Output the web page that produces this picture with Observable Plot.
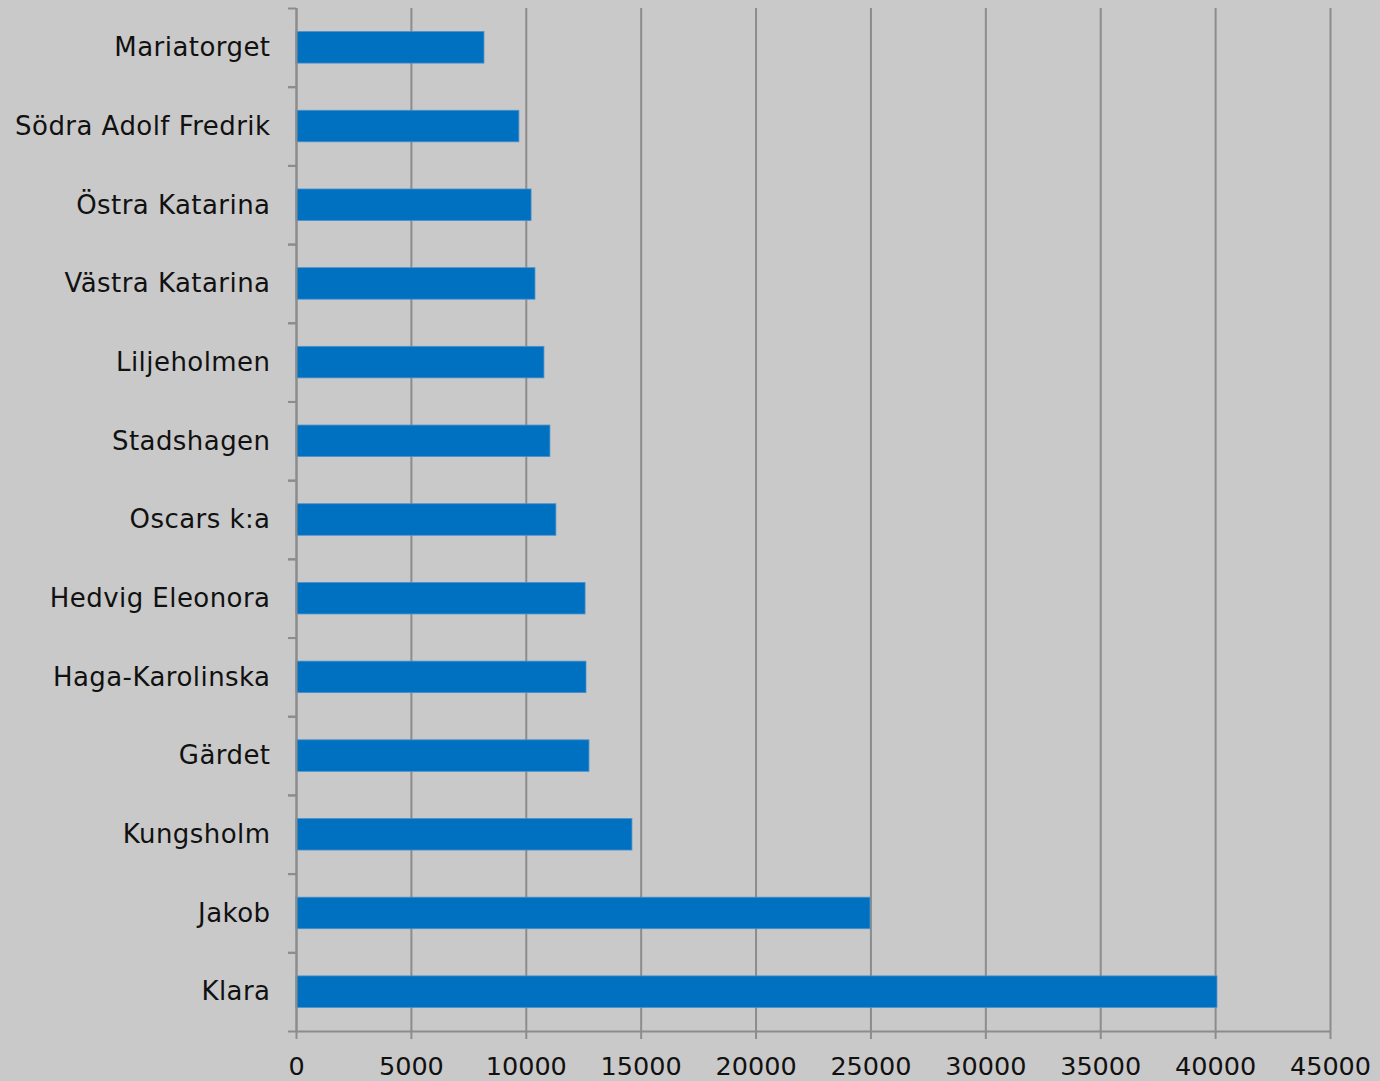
<!DOCTYPE html>
<html><head><meta charset="utf-8">
<script src="https://cdn.jsdelivr.net/npm/d3@7"></script>
<script src="https://cdn.jsdelivr.net/npm/@observablehq/plot@0.6"></script>
<style>
html,body{margin:0;padding:0;background:#c9c9c9;overflow:hidden;}
#chart svg{display:block;}
</style></head><body><div id="chart"></div>
<script>
const categories = ["Mariatorget","Södra Adolf Fredrik","Östra Katarina","Västra Katarina","Liljeholmen","Stadshagen","Oscars k:a","Hedvig Eleonora","Haga-Karolinska","Gärdet","Kungsholm","Jakob","Klara"];
const values = [8180, 9700, 10230, 10400, 10790, 11050, 11310, 12580, 12620, 12750, 14620, 24980, 40080];
const xTicks = [0, 5000, 10000, 15000, 20000, 25000, 30000, 35000, 40000, 45000];

const data = categories.map((c, i) => ({name: c, value: values[i]}));
const W = 1380, H = 1081, mt = 8, mb = 50, ml = 296, mr = 50;
const bw = (H - mt - mb) / categories.length;
const barH = 31.5;
const inset = (bw - barH) / 2;
const gray = "#8c8c8c";

const chart = Plot.plot({
  width: W, height: H,
  marginLeft: ml, marginRight: mr, marginTop: mt, marginBottom: mb,
  style: {background: "#c9c9c9", fontFamily: "DejaVu Sans, Verdana, sans-serif", fontSize: "25px", color: "#111"},
  x: {domain: [0, 45000], axis: null, label: null},
  y: {domain: categories, padding: 0, round: false, axis: null, label: null},
  marks: [
    Plot.gridX(xTicks, {stroke: gray, strokeOpacity: 1, strokeWidth: 2}),
    Plot.barX(data, {x: "value", y: "name", fill: "#0070c0", stroke: "#4a8fcc", strokeWidth: 0.8, insetTop: inset, insetBottom: inset}),
    Plot.ruleX([0], {stroke: gray, strokeWidth: 2}),
    Plot.ruleY([categories[categories.length - 1]], {y: d => d, dy: bw / 2, stroke: gray, strokeWidth: 2}),
    Plot.axisX(xTicks, {tickSize: 8, tickPadding: 17, tickFormat: d => String(d), stroke: gray, strokeWidth: 2, fill: "#111", fontSize: 25.5, label: null}),
    Plot.axisY({tickSize: 0, tickPadding: 26, fill: "#111", fontSize: 26, label: null}),
    Plot.axisY({tickSize: 8, text: null, dy: -bw / 2, stroke: gray, strokeWidth: 2, label: null}),
    Plot.axisY({tickSize: 8, text: null, dy: bw / 2, stroke: gray, strokeWidth: 2, label: null})
  ]
});
chart.querySelectorAll("g[aria-label='y-axis tick label']").forEach(n => n.setAttribute("letter-spacing", "0.45"));
document.getElementById("chart").append(chart);
</script>
</body></html>
